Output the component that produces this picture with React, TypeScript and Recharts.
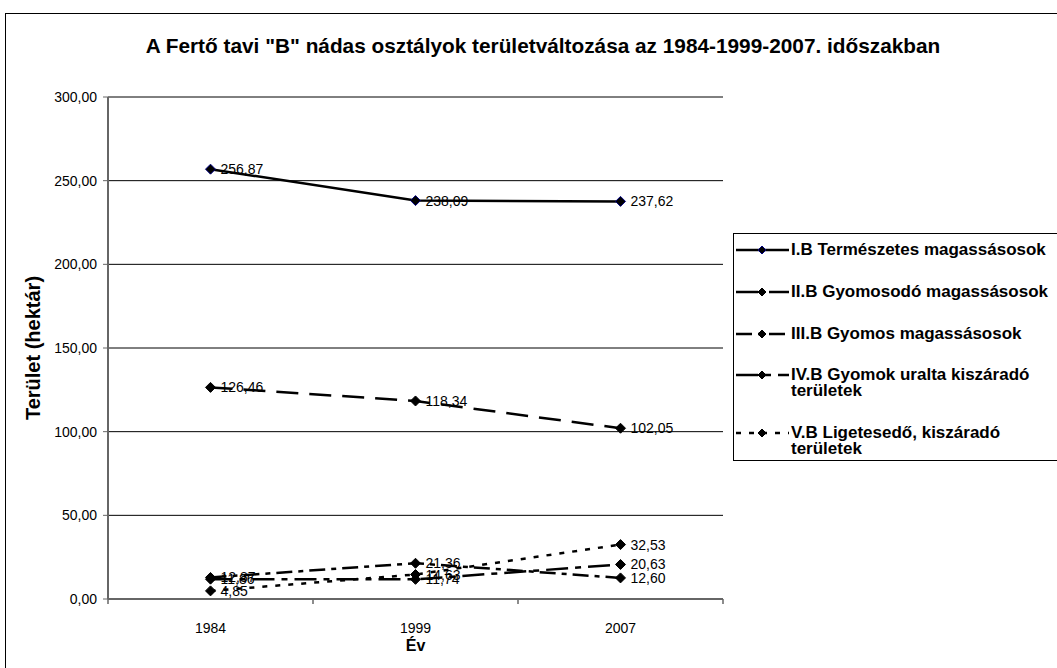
import React from 'react';
import {
  LineChart, Line, XAxis, YAxis, CartesianGrid, Label,
} from 'recharts';

// years on the category axis
const years = ['1984', '1999', '2007'];

// area per reed class (hectare)
const termeszetes = [256.87, 238.09, 237.62];
const gyomosodo = [126.46, 118.34, 102.05];
const gyomos = [12.87, 21.36, 12.6];
const gyomokUralta = [11.86, 11.74, 20.63];
const ligetesedo = [4.85, 14.63, 32.53];

const yTicks = [0, 50, 100, 150, 200, 250, 300];

const FONT = '"Liberation Sans", Arial, sans-serif';
const W = 1057;
const H = 668;
const PLOT_LEFT = 108;
const PLOT_RIGHT = 723;
const HALF_BAND = (PLOT_RIGHT - PLOT_LEFT) / years.length / 2;

const series = [
  { key: 's1', name: 'I.B Természetes magassásosok', values: termeszetes, dash: undefined, dotStroke: '#000080' },
  { key: 's2', name: 'II.B Gyomosodó magassásosok', values: gyomosodo, dash: '22 11', dotStroke: '#000' },
  { key: 's3', name: 'III.B Gyomos magassásosok', values: gyomos, dash: '16 6 5 6', dotStroke: '#000' },
  { key: 's4', name: 'IV.B Gyomok uralta kiszáradó területek', values: gyomokUralta, dash: '22 7 6 7', dotStroke: '#000' },
  { key: 's5', name: 'V.B Ligetesedő, kiszáradó területek', values: ligetesedo, dash: '5 8', dotStroke: '#000' },
];

const data = years.map((y, i) => {
  const row: Record<string, number | string> = { idx: i, year: y };
  series.forEach(s => { row[s.key] = s.values[i]; });
  return row;
});

const fmt = (v: number) => v.toFixed(2).replace('.', ',');

function Diamond({ cx, cy, stroke, size = 5 }: { cx: number; cy: number; stroke: string; size?: number }) {
  return (
    <polygon
      points={`${cx},${cy - size} ${cx + size},${cy} ${cx},${cy + size} ${cx - size},${cy}`}
      fill="#000"
      stroke={stroke}
      strokeWidth={1}
    />
  );
}

function XTick(props: any) {
  const { x, y, payload, index } = props;
  return (
    <g>
      <line x1={x - HALF_BAND} y1={y} x2={x - HALF_BAND} y2={y + 5} stroke="#666" strokeWidth={1.5} />
      {index === years.length - 1 && (
        <line x1={x + HALF_BAND} y1={y} x2={x + HALF_BAND} y2={y + 5} stroke="#666" strokeWidth={1.5} />
      )}
      <text x={x} y={y + 34} textAnchor="middle" fontSize={14} fill="#000" fontFamily={FONT}>
        {years[payload.value]}
      </text>
    </g>
  );
}

function ValueLabel(props: any) {
  const { x, y, value } = props;
  return (
    <text x={x + 10} y={y + 5} fontSize={14} fill="#000" fontFamily={FONT}>
      {fmt(value)}
    </text>
  );
}

function LegendBox() {
  return (
    <div
      style={{
        position: 'absolute', left: 733, top: 233,
        border: '1px solid #000',
        background: '#fff',
        width: 360,
        height: 228,
        boxSizing: 'border-box',
        fontFamily: FONT,
        fontWeight: 'bold',
        fontSize: 17,
        color: '#000',
        padding: '8px 0 3px 0',
        display: 'flex',
        flexDirection: 'column',
        justifyContent: 'space-between',
      }}
    >
      {series.map(s => (
        <div key={s.key} style={{ display: 'flex', alignItems: 'flex-start' }}>
          <svg width={57} height={16} style={{ flex: 'none' }}>
            <line x1={2} y1={8} x2={55} y2={8} stroke="#000" strokeWidth={2.5} strokeDasharray={s.dash} />
            <Diamond cx={28} cy={8} stroke={s.dotStroke} size={4} />
          </svg>
          <div style={{ width: 262, lineHeight: '16px' }}>{s.name}</div>
        </div>
      ))}
    </div>
  );
}

export default function App() {
  return (
    <div style={{ position: 'fixed', left: 0, top: 0, width: W, height: H, overflow: 'hidden', background: '#fff' }}>
      <div
        style={{
          position: 'absolute', left: 5, top: 13, width: W + 20, height: H + 20,
          border: '1.5px solid #000', boxSizing: 'border-box',
        }}
      />
      <div
        style={{
          position: 'absolute', left: 0, top: 34, width: 1086, textAlign: 'center',
          fontFamily: FONT, fontWeight: 'bold', fontSize: 20.8, color: '#000', whiteSpace: 'nowrap',
        }}
      >
        A Fertő tavi "B" nádas osztályok területváltozása az 1984-1999-2007. időszakban
      </div>
      <LineChart
        width={W}
        height={H}
        data={data}
        margin={{ top: 97, right: W - PLOT_RIGHT, bottom: 0, left: 0 }}
        style={{ position: 'absolute', left: 0, top: 0, fontFamily: FONT }}
      >
        <CartesianGrid vertical={false} stroke="#000" strokeWidth={1} />
        <XAxis
          type="number"
          dataKey="idx"
          domain={[-0.5, 2.5]}
          ticks={[0, 1, 2]}
          interval={0}
          height={69}
          tickSize={0}
          tickMargin={0}
          tickLine={false}
          axisLine={{ stroke: '#666', strokeWidth: 2 }}
          tick={<XTick />}
        >
          <Label
            content={({ viewBox }: any) => (
              <text
                x={viewBox.x + viewBox.width / 2}
                y={viewBox.y + 52}
                textAnchor="middle"
                fontSize={16}
                fontWeight="bold"
                fontFamily={FONT}
                fill="#000"
              >
                Év
              </text>
            )}
          />
        </XAxis>
        <YAxis
          width={PLOT_LEFT}
          domain={[0, 300]}
          ticks={yTicks}
          interval={0}
          tickSize={5}
          tickMargin={6}
          tickFormatter={fmt}
          tick={{ fill: '#000', fontSize: 14, fontFamily: FONT }}
          tickLine={{ stroke: '#666' }}
          axisLine={{ stroke: '#666', strokeWidth: 2 }}
        >
          <Label
            content={({ viewBox }: any) => {
              const cx = 33;
              const cy = viewBox.y + viewBox.height / 2;
              return (
                <text
                  x={cx}
                  y={cy}
                  transform={`rotate(-90 ${cx} ${cy})`}
                  textAnchor="middle"
                  dominantBaseline="central"
                  fontSize={20}
                  fontWeight="bold"
                  fontFamily={FONT}
                  fill="#000"
                >
                  Terület (hektár)
                </text>
              );
            }}
          />
        </YAxis>
        {series.map(s => (
          <Line
            key={s.key}
            dataKey={s.key}
            name={s.name}
            type="linear"
            stroke="#000"
            strokeWidth={2.5}
            strokeDasharray={s.dash}
            dot={(p: any) => <Diamond key={`${s.key}-${p.index}`} cx={p.cx} cy={p.cy} stroke={s.dotStroke} />}
            activeDot={false}
            label={<ValueLabel />}
            isAnimationActive={false}
          />
        ))}
      </LineChart>
      <LegendBox />
    </div>
  );
}
